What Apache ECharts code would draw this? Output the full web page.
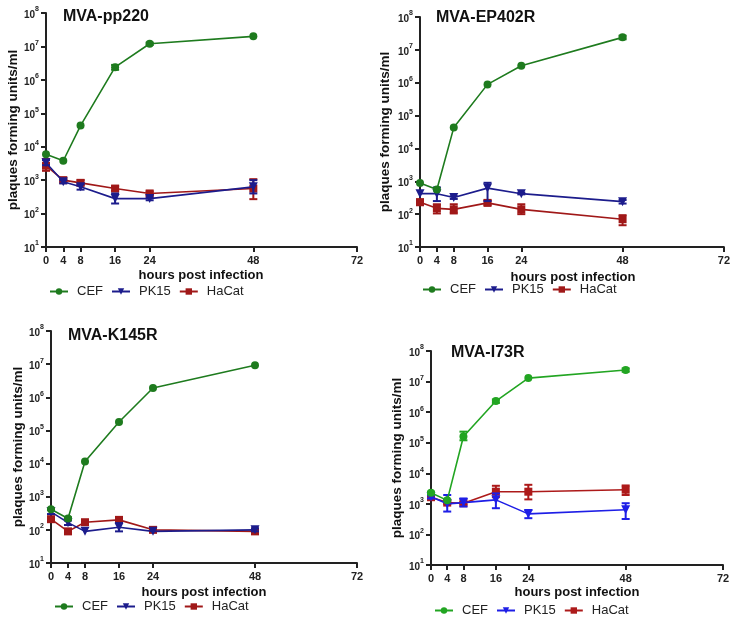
<!DOCTYPE html>
<html><head><meta charset="utf-8">
<script src="https://cdn.jsdelivr.net/npm/echarts@6/dist/echarts.min.js"></script>
<style>html,body{margin:0;padding:0;background:#fff}#c{width:733px;height:618px}</style>
</head><body><div id="c"></div>
<script>
// ---- data ----
var hours = [0, 4, 8, 16, 24, 48];
var xTicks = [0, 4, 8, 16, 24, 48, 72];
var panelTitles = ['MVA-pp220', 'MVA-EP402R', 'MVA-K145R', 'MVA-I73R'];
var seriesNames = ['CEF', 'PK15', 'HaCat'];

// Panel 1: MVA-pp220
var p1CEF   = [6000, 3800, 43000, 2400000, 12000000, 20000000];
var p1CEFlo = [6000, 3800, 43000, 2000000, 11000000, 20000000];
var p1CEFhi = [6000, 3800, 43000, 2800000, 13000000, 20000000];
var p1PK15   = [3300, 900, 630, 280, 280, 630];
var p1PK15lo = [2800, 800, 520, 200, 250, 400];
var p1PK15hi = [4000, 1000, 760, 400, 300, 1000];
var p1HaCat   = [2700, 1000, 830, 560, 400, 560];
var p1HaCatlo = [1900, 900, 700, 480, 350, 270];
var p1HaCathi = [4300, 1100, 1000, 660, 460, 1070];

// Panel 2: MVA-EP402R
var p2CEF   = [890, 560, 43000, 890000, 3300000, 24000000];
var p2CEFlo = [890, 560, 43000, 890000, 3300000, 21000000];
var p2CEFhi = [890, 560, 43000, 890000, 3300000, 27000000];
var p2PK15   = [420, 420, 320, 620, 420, 240];
var p2PK15lo = [420, 250, 290, 250, 400, 210];
var p2PK15hi = [420, 650, 350, 900, 450, 270];
var p2HaCat   = [230, 150, 140, 220, 140, 70];
var p2HaCatlo = [190, 105, 105, 190, 100, 46];
var p2HaCathi = [280, 200, 200, 260, 200, 93];

// Panel 3: MVA-K145R
var p3CEF   = [420, 220, 11500, 180000, 1900000, 9300000];
var p3CEFlo = [400, 200, 11500, 180000, 1900000, 9300000];
var p3CEFhi = [440, 240, 11500, 180000, 1900000, 9300000];
var p3PK15   = [350, 165, 90, 120, 90, 100];
var p3PK15lo = [300, 140, 90, 90, 90, 90];
var p3PK15hi = [420, 190, 90, 160, 90, 110];
var p3HaCat   = [210, 90, 170, 200, 100, 90];
var p3HaCatlo = [180, 80, 160, 170, 95, 85];
var p3HaCathi = [240, 100, 180, 230, 105, 95];

// Panel 4: MVA-I73R
var p4CEF   = [2300, 1300, 160000, 2300000, 13000000, 24000000];
var p4CEFlo = [2100, 1300, 120000, 2000000, 13000000, 21000000];
var p4CEFhi = [2500, 1300, 230000, 2600000, 13000000, 27000000];
var p4PK15   = [1700, 1000, 1100, 1350, 470, 640];
var p4PK15lo = [1500, 560, 820, 720, 340, 320];
var p4PK15hi = [1900, 1950, 1500, 2200, 630, 1050];
var p4HaCat   = [1650, 1100, 1050, 2500, 2500, 2900];
var p4HaCatlo = [1400, 1000, 950, 1650, 1400, 1950];
var p4HaCathi = [2000, 1200, 1150, 3900, 4200, 4000];

// ---- layout / style ----
var grids = [
  {left: 46, top: 13, width: 311, height: 234},
  {left: 420, top: 17, width: 306, height: 230},
  {left: 51, top: 331, width: 306, height: 232},
  {left: 431, top: 351, width: 292, height: 214}
];
var darkColors = ['#1e7b1e', '#1c1c8c', '#a01818'];
var brightColors = ['#22a522', '#1e1ee6', '#ad1a1a'];
var symbols = ['circle', 'triangle', 'rect'];
var symbolRot = [0, 180, 0];
var panelData = [
  [[p1CEF, p1CEFlo, p1CEFhi], [p1PK15, p1PK15lo, p1PK15hi], [p1HaCat, p1HaCatlo, p1HaCathi]],
  [[p2CEF, p2CEFlo, p2CEFhi], [p2PK15, p2PK15lo, p2PK15hi], [p2HaCat, p2HaCatlo, p2HaCathi]],
  [[p3CEF, p3CEFlo, p3CEFhi], [p3PK15, p3PK15lo, p3PK15hi], [p3HaCat, p3HaCatlo, p3HaCathi]],
  [[p4CEF, p4CEFlo, p4CEFhi], [p4PK15, p4PK15lo, p4PK15hi], [p4HaCat, p4HaCatlo, p4HaCathi]]
];
var titlePos = [{left: 58, top: 4}, {left: 431, top: 5}, {left: 63, top: 323}, {left: 446, top: 340}];
var legendPos = [{left: 49, top: 285}, {left: 422, top: 283}, {left: 54, top: 600}, {left: 434, top: 604}];
var xNamePos = [{x: 201, y: 275}, {x: 573, y: 277}, {x: 204, y: 592}, {x: 577, y: 592}];
var yNameGap = [26, 28, 25, 27];

var FONT = 'Liberation Sans, Arial, sans-serif';
var option = {
  animation: false,
  backgroundColor: '#fff',
  title: [], grid: [], xAxis: [], yAxis: [], series: [], legend: [], graphic: []
};

grids.forEach(function (g, p) {
  option.grid.push({left: g.left, top: g.top, width: g.width, height: g.height, containLabel: false});
  option.title.push({text: panelTitles[p], left: titlePos[p].left, top: titlePos[p].top,
    textStyle: {fontFamily: FONT, fontSize: 16, fontWeight: 'bold', color: '#111'}});
  option.xAxis.push({
    type: 'value', gridIndex: p, min: 0, max: 72,
    axisLine: {show: true, lineStyle: {color: '#222', width: 2}},
    axisTick: {show: true, customValues: xTicks, length: 5, lineStyle: {color: '#222', width: 2}},
    axisLabel: {customValues: xTicks, fontFamily: FONT, fontSize: 11, fontWeight: 'bold', color: '#222', margin: 8},
    splitLine: {show: false}
  });
  option.yAxis.push({
    type: 'log', logBase: 10, gridIndex: p, min: 10, max: 100000000,
    name: 'plaques forming units/ml', nameLocation: 'middle', nameGap: yNameGap[p],
    nameTextStyle: {fontFamily: FONT, fontSize: 13.5, fontWeight: 'bold', color: '#111'},
    axisLine: {show: true, lineStyle: {color: '#222', width: 2}},
    axisTick: {show: true, length: 5, lineStyle: {color: '#222', width: 2}},
    axisLabel: {
      margin: 7, fontFamily: FONT,
      formatter: function (v) { return '{b|10}{s|' + Math.round(Math.log10(v)) + '}'; },
      rich: {
        b: {fontFamily: FONT, fontSize: 10, fontWeight: 'bold', color: '#222', lineHeight: 14, verticalAlign: 'bottom'},
        s: {fontFamily: FONT, fontSize: 7, fontWeight: 'bold', color: '#222', lineHeight: 14, verticalAlign: 'top', padding: [0, 0, 4, 0]}
      }
    },
    splitLine: {show: false}
  });
  var colors = p === 3 ? brightColors : darkColors;
  var legendNames = [];
  panelData[p].forEach(function (sd, s) {
    var nm = seriesNames[s] + '#' + p;
    legendNames.push(nm);
    var col = colors[s];
    option.series.push({
      name: nm, type: 'line', xAxisIndex: p, yAxisIndex: p,
      data: hours.map(function (h, i) { return [h, sd[0][i]]; }),
      symbol: symbols[s], symbolRotate: symbolRot[s], symbolSize: s === 1 ? 9 : 8,
      itemStyle: {color: col}, lineStyle: {color: col, width: 1.6}, z: 3 - s + 2
    });
    option.series.push({
      type: 'custom', xAxisIndex: p, yAxisIndex: p, silent: true, z: 3 - s + 2,
      data: hours.map(function (h, i) { return [h, sd[1][i], sd[2][i]]; }),
      renderItem: function (params, api) {
        var lo = api.value(1), hi = api.value(2);
        if (lo === hi) return;
        var a = api.coord([api.value(0), hi]);
        var b = api.coord([api.value(0), lo]);
        var w = 4;
        var st = {stroke: col, lineWidth: 2};
        return {type: 'group', children: [
          {type: 'line', shape: {x1: a[0], y1: a[1], x2: b[0], y2: b[1]}, style: st},
          {type: 'line', shape: {x1: a[0] - w, y1: a[1], x2: a[0] + w, y2: a[1]}, style: st},
          {type: 'line', shape: {x1: b[0] - w, y1: b[1], x2: b[0] + w, y2: b[1]}, style: st}
        ]};
      }
    });
  });
  option.legend.push({
    data: legendNames, left: legendPos[p].left, top: legendPos[p].top, orient: 'horizontal',
    padding: 0, itemWidth: 18, itemHeight: 8, itemGap: 8, selectedMode: false,
    formatter: function (n) { return n.split('#')[0]; },
    textStyle: {fontFamily: FONT, fontSize: 13, color: '#222', padding: [0, 0, 0, 4]}
  });
  option.graphic.push({
    type: 'text', x: xNamePos[p].x, y: xNamePos[p].y,
    style: {text: 'hours post infection', fontFamily: FONT, fontSize: 13, fontWeight: 'bold', fill: '#111',
      textAlign: 'center', textVerticalAlign: 'middle'}
  });
});

var chart = echarts.init(document.getElementById('c'), null, {renderer: 'canvas'});
chart.setOption(option);
</script>
</body></html>
